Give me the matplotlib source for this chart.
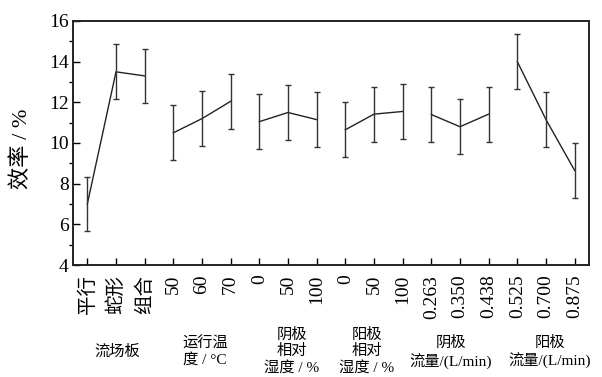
import numpy as np
import matplotlib.pyplot as plt

plt.rcParams['font.family'] = ['Liberation Serif', 'Noto Sans CJK SC']

# Дані
tick_labels = ['平行', '蛇形', '组合', '50', '60', '70', '0', '50', '100',
               '0', '50', '100', '0.263', '0.350', '0.438',
               '0.525', '0.700', '0.875']
efficiency = [7.0, 13.5, 13.3, 10.5, 11.2, 12.05, 11.05, 11.5, 11.15,
              10.65, 11.42, 11.55, 11.4, 10.8, 11.42, 14.0, 11.15, 8.65]
errors = [1.35, 1.35, 1.33, 1.35, 1.35, 1.35, 1.35, 1.35, 1.35,
          1.35, 1.35, 1.35, 1.35, 1.35, 1.35, 1.35, 1.35, 1.35]
group_sizes = [3, 3, 3, 3, 3, 3]
group_names = ['流场板', '运行温\n度 / °C', '阴极\n相对\n湿度 / %', '阳极\n相对\n湿度 / %',
               '阴极\n流量/(L/min)', '阳极\n流量/(L/min)']

W, H = 602, 377
fig = plt.figure(figsize=(W / 100, H / 100), dpi=100)
ax = fig.add_axes([73 / W, 1 - 265 / H, (589 - 73) / W, (265 - 21) / H])

x = np.arange(1, len(efficiency) + 1)
y = np.array(efficiency)
e = np.array(errors)

# лінії всередині кожної групи
start = 0
for n in group_sizes:
    sl = slice(start, start + n)
    ax.plot(x[sl], y[sl], color='#222222', lw=1.0)
    start += n

ax.errorbar(x, y, yerr=e, fmt='none', ecolor='#333333', elinewidth=1.0,
            capsize=2, capthick=1.0)

ax.set_xlim(0.5, 18.5)
ax.set_ylim(4, 16)
ax.set_yticks(np.arange(4, 17, 2))
ax.set_yticks(np.arange(5, 16, 2), minor=True)
ax.set_xticks(x)
ax.set_xticklabels(tick_labels, rotation=90)
ax.tick_params(axis='both', direction='in', labelsize=14, width=1.0)
ax.tick_params(axis='y', which='major', length=5, pad=3)
ax.tick_params(axis='y', which='minor', length=3, width=1.0)
ax.tick_params(axis='x', length=5, pad=7)
for s in ax.spines.values():
    s.set_linewidth(1.4)
    s.set_color('#222222')

fig.text(22 / W, 1 - 149 / H, '效率 / %', rotation=90, fontsize=16,
         ha='center', va='center')

group_pos = [(117, 352), (205, 352), (292, 351), (367, 351), (451, 352), (550, 352)]
for name, (px, py) in zip(group_names, group_pos):
    fig.text(px / W, 1 - py / H, name, fontsize=11, ha='center', va='center',
             linespacing=1.2)

fig.savefig('out.png', dpi=100, facecolor='white')
